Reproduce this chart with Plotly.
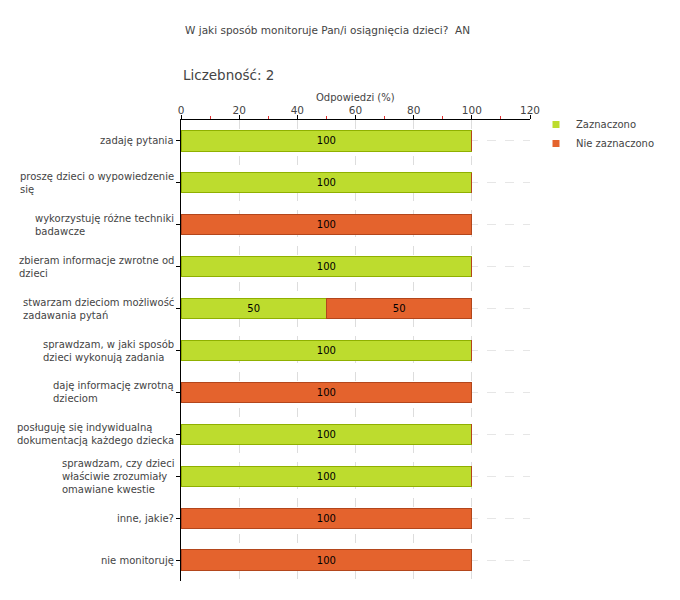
import plotly.graph_objects as go

categories = [
    "zadaję pytania",
    "proszę dzieci o wypowiedzenie<br>się",
    "wykorzystuję różne techniki<br>badawcze",
    "zbieram informacje zwrotne od<br>dzieci",
    "stwarzam dzieciom możliwość<br>zadawania pytań",
    "sprawdzam, w jaki sposób<br>dzieci wykonują zadania",
    "daję informację zwrotną<br>dzieciom",
    "posługuję się indywidualną<br>dokumentacją każdego dziecka",
    "sprawdzam, czy dzieci<br>właściwie zrozumiały<br>omawiane kwestie",
    "inne, jakie?",
    "nie monitoruję",
]
zaznaczono = [100, 100, 0, 100, 50, 100, 0, 100, 100, 0, 0]
nie_zaznaczono = [0, 0, 100, 0, 50, 0, 100, 0, 0, 100, 100]
series_names = ["Zaznaczono", "Nie zaznaczono"]
x_ticks = [0, 20, 40, 60, 80, 100, 120]

title_text = "W jaki sposób monitoruje Pan/i osiągnięcia dzieci?  AN"
count_text = "Liczebność: 2"
axis_title = "Odpowiedzi (%)"

FONT = "DejaVu Sans"
TXT = "#444444"
FILLS = ["#bddc2e", "#e4632d"]
EDGES = ["#8fb000", "#b3461c"]

ids = list(range(len(categories)))

fig = go.Figure()
for name, vals, fill, edge in zip(series_names, [zaznaczono, nie_zaznaczono], FILLS, EDGES):
    fig.add_trace(go.Bar(
        name=name, y=ids, x=vals, orientation="h",
        marker=dict(color=fill, line=dict(color=edge, width=1)),
        text=[str(v) if v else "" for v in vals],
        textposition="inside", insidetextanchor="middle",
        textfont=dict(family=FONT, size=10, color="#000000"),
        hoverinfo="x+name", showlegend=False,
    ))
# legend entries with small square markers
for name, fill in zip(series_names, FILLS):
    fig.add_trace(go.Scatter(
        name=name, x=[None], y=[None], mode="markers",
        marker=dict(symbol="square", size=7, color=fill),
        showlegend=True, hoverinfo="skip",
    ))

PH = 461  # plot height in px
PW = 349  # plot width in px
annotations = []
for i, c in enumerate(categories):
    annotations.append(dict(
        x=0, xref="paper", y=i, yref="y", text=c, showarrow=False,
        xanchor="right", yanchor="middle", align="left", xshift=-5,
        font=dict(family=FONT, size=10, color=TXT),
    ))
annotations.append(dict(
    x=0.006, xref="paper", y=1 + 90 / PH, yref="paper", text=title_text,
    showarrow=False, xanchor="left", yanchor="middle",
    font=dict(family=FONT, size=10.5, color=TXT),
))
annotations.append(dict(
    x=0, xref="paper", y=1 + 45 / PH, yref="paper", text=count_text,
    showarrow=False, xanchor="left", yanchor="middle",
    font=dict(family=FONT, size=13.5, color=TXT),
))
annotations.append(dict(
    x=0.5, xref="paper", y=1 + 23 / PH, yref="paper", text=axis_title,
    showarrow=False, xanchor="center", yanchor="middle",
    font=dict(family=FONT, size=10, color=TXT),
))

fig.update_layout(
    width=672, height=592,
    margin=dict(l=173, r=150, t=112, b=19, autoexpand=False),
    barmode="stack", bargap=0.52,
    plot_bgcolor="white", paper_bgcolor="white",
    font=dict(family=FONT, size=10, color=TXT),
    showlegend=True,
    legend=dict(x=1 + 6 / PW, y=1 + 10 / PH, xanchor="left", yanchor="top",
                traceorder="normal",
                font=dict(family=FONT, size=10, color=TXT),
                tracegroupgap=0, bgcolor="rgba(0,0,0,0)"),
    annotations=annotations,
    xaxis=dict(
        side="top", range=[0, 120], tickvals=x_ticks,
        ticks="outside", ticklen=4, tickcolor="#000000",
        ticklabelstandoff=-3,
        showline=True, linecolor="#000000", linewidth=1,
        showgrid=True, gridcolor="#dddddd", griddash="dash", gridwidth=1,
        zeroline=False,
        tickfont=dict(family=FONT, size=10.5, color=TXT),
        minor=dict(dtick=10, ticks="outside", ticklen=3, tickcolor="#e03030", showgrid=False),
    ),
    yaxis=dict(
        range=[len(categories) - 0.5, -0.5], tickvals=ids, showticklabels=False,
        ticks="outside", ticklen=4, tickcolor="#000000",
        showline=True, linecolor="#000000", linewidth=1,
        showgrid=True, gridcolor="#e6e6e6", griddash="dash", gridwidth=1,
        zeroline=False,
    ),
)

fig.write_html("out.html")
